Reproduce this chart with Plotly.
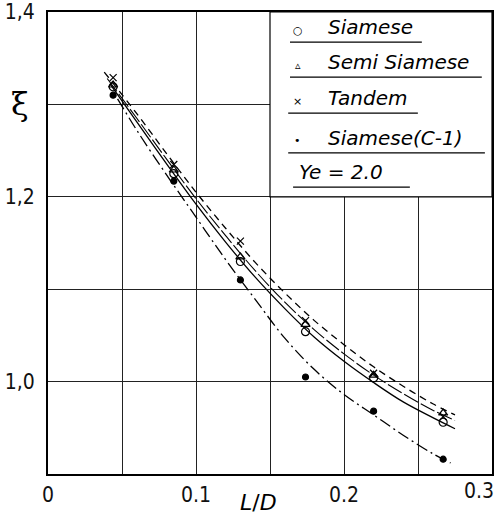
import plotly.graph_objects as go

# ---- measured points ----
x_pts = [0.044, 0.085, 0.130, 0.174, 0.220, 0.267]
y_siamese = [1.319, 1.225, 1.130, 1.054, 1.004, 0.956]
y_semi = [1.321, 1.229, 1.135, 1.062, 1.007, 0.966]
y_tandem = [1.329, 1.235, 1.152, 1.066, 1.009, 0.962]
y_c1 = [1.310, 1.217, 1.110, 1.005, 0.968, 0.916]

# ---- fitted curves ----
xc_tandem = [0.038, 0.06, 0.08, 0.10, 0.12, 0.14, 0.16, 0.18, 0.20, 0.22, 0.24, 0.26, 0.275]
yc_tandem = [1.335, 1.290, 1.247, 1.205, 1.166, 1.129, 1.096, 1.066, 1.040, 1.016, 0.995, 0.976, 0.964]
xc_semi = [0.040, 0.06, 0.08, 0.10, 0.12, 0.14, 0.16, 0.18, 0.20, 0.22, 0.24, 0.26, 0.275]
yc_semi = [1.328, 1.285, 1.241, 1.198, 1.158, 1.120, 1.086, 1.056, 1.030, 1.007, 0.987, 0.969, 0.958]
xc_siamese = [0.042, 0.06, 0.08, 0.10, 0.12, 0.14, 0.16, 0.18, 0.20, 0.22, 0.24, 0.26, 0.275]
yc_siamese = [1.322, 1.281, 1.236, 1.192, 1.151, 1.113, 1.079, 1.048, 1.022, 0.999, 0.978, 0.961, 0.949]
xc_c1 = [0.047, 0.06, 0.08, 0.10, 0.12, 0.14, 0.16, 0.18, 0.20, 0.22, 0.24, 0.26, 0.272]
yc_c1 = [1.306, 1.272, 1.224, 1.178, 1.132, 1.089, 1.047, 1.013, 0.986, 0.964, 0.942, 0.922, 0.912]

x_ticks = [0, 0.05, 0.1, 0.15, 0.2, 0.25, 0.3]
x_ticktext = ["0", "", "0.1", "", "0.2", "", ""]
x_last_tick = 0.3
x_last_label = "0.3"
y_ticks = [0.9, 1.0, 1.1, 1.2, 1.3, 1.4]
y_ticktext = ["", "1,0", "", "1,2", "", "1,4"]

legend_labels = ["Siamese", "Semi Siamese", "Tandem", "Siamese(C-1)", "Ye = 2.0"]
legend_marks = ["○", "▵", "×", "•", ""]

TICKFONT = dict(size=21, color="#111", family="Liberation Sans Narrow, DejaVu Sans Condensed")

fig = go.Figure()

line_specs = [
    (xc_tandem, yc_tandem, "7px,5px", 1.3),
    (xc_semi, yc_semi, "16px,3px", 1.1),
    (xc_siamese, yc_siamese, "solid", 1.3),
    (xc_c1, yc_c1, "12px,4px,2px,4px", 1.3),
]
for xs, ys, dash, w in line_specs:
    fig.add_trace(go.Scatter(x=xs, y=ys, mode="lines", line=dict(color="black", width=w, dash=dash, shape="spline"),
                             showlegend=False, hoverinfo="skip"))

marker_specs = [
    (y_siamese, "circle-open", 8),
    (y_semi, "triangle-up-open", 8),
    (y_tandem, "x-thin-open", 7),
    (y_c1, "circle", 6),
]
for ys, sym, sz in marker_specs:
    fig.add_trace(go.Scatter(x=x_pts, y=ys, mode="markers",
                             marker=dict(symbol=sym, size=sz, color="black", line=dict(color="black", width=1.2)),
                             showlegend=False))

# legend box
fig.add_shape(type="rect", xref="x", yref="y", x0=0.15, x1=0.3, y0=1.2, y1=1.4,
              fillcolor="white", line=dict(color="black", width=1.2), layer="above")

under_y = [0.935, 0.859, 0.781, 0.695, 0.621]
under_x = [(0.545, 0.842), (0.545, 0.977), (0.541, 0.833), (0.541, 0.984), (0.552, 0.815)]
mark_y = [0.961, 0.885, 0.807, 0.721]
for i, (lab, mk) in enumerate(zip(legend_labels, legend_marks)):
    if mk:
        fig.add_annotation(xref="x domain", yref="y domain", x=0.563, y=mark_y[i], text=mk,
                           showarrow=False, font=dict(size=11, color="black", family="DejaVu Sans"),
                           xanchor="center", yanchor="middle")
        xt = 0.625
    else:
        xt = 0.56
    fig.add_annotation(xref="x domain", yref="y domain", x=xt, y=under_y[i] + 0.002, text="<i>" + lab + "</i>",
                       showarrow=False, font=dict(size=20, color="black", family="DejaVu Sans"),
                       xanchor="left", yanchor="bottom")
    fig.add_shape(type="line", xref="x domain", yref="y domain", x0=under_x[i][0], x1=under_x[i][1],
                  y0=under_y[i], y1=under_y[i], line=dict(color="black", width=1.2))

# last x tick label, kept inside the page edge as in the reference
fig.add_annotation(xref="x", yref="paper", x=x_last_tick, y=0, yshift=-3, xshift=4, text=x_last_label,
                   showarrow=False, font=TICKFONT, xanchor="right", yanchor="top")

# axis titles
fig.add_annotation(xref="paper", yref="paper", x=-0.063, y=0.80, text="ξ", showarrow=False,
                   font=dict(size=32, color="black", family="DejaVu Serif"), xanchor="center", yanchor="middle")
fig.add_annotation(xref="x", yref="paper", x=0.142, y=-0.062, text="<i>L</i>/<i>D</i>", showarrow=False,
                   font=dict(size=22, color="black", family="DejaVu Sans"), xanchor="center", yanchor="middle")

axis_common = dict(showgrid=True, gridcolor="#222", gridwidth=1, showline=True, linecolor="black",
                   linewidth=2, mirror=True, ticks="", zeroline=False, automargin=False,
                   ticklabeloverflow="allow", tickfont=TICKFONT)
fig.update_xaxes(range=[0, 0.3], tickvals=x_ticks, ticktext=x_ticktext, ticklabelstandoff=1, **axis_common)
fig.update_yaxes(range=[0.9, 1.4], tickvals=y_ticks, ticktext=y_ticktext, ticklabelstandoff=7, **axis_common)

fig.update_layout(width=501, height=520, margin=dict(l=48, r=9, t=12, b=46, autoexpand=False),
                  plot_bgcolor="white", paper_bgcolor="white", showlegend=False)

fig.write_html("out.html", config={"displayModeBar": False},
               post_script="document.body.style.margin='0px';")
